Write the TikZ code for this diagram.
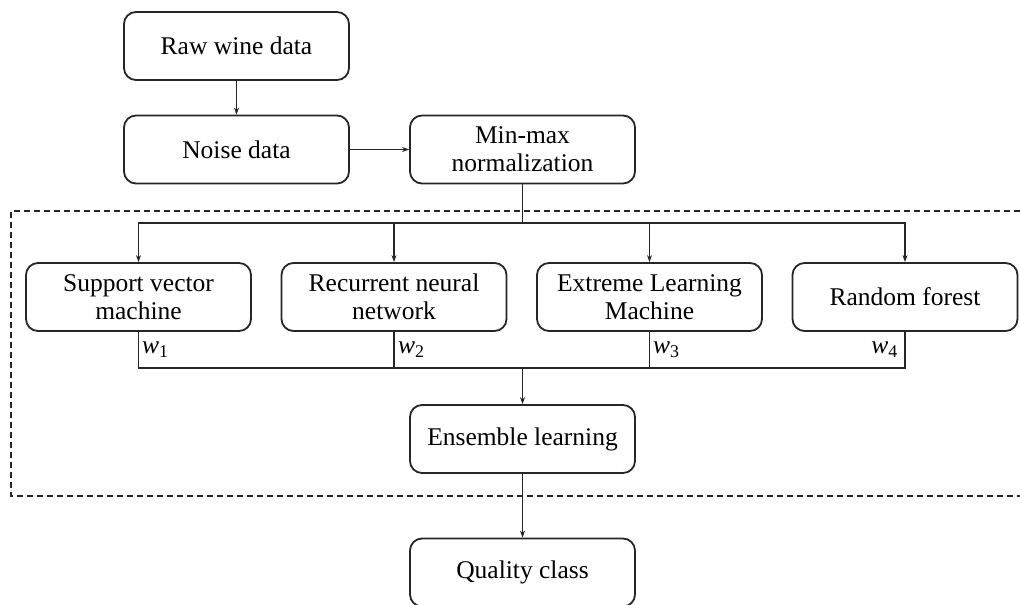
\documentclass[tikz,border=0pt]{standalone}
\usepackage{fontspec}
\setmainfont{Liberation Serif}
\usetikzlibrary{arrows.meta}
\begin{document}
\begin{tikzpicture}[x=1pt,y=-1pt,
  box/.style={draw=black!85, line width=1.8pt, rounded corners=12pt, minimum width=225pt, minimum height=68pt,
    inner sep=0pt, align=center, font=\fontsize{25.5}{28}\selectfont},
  arr/.style={draw=black!85, line width=1.6pt, -{Stealth[length=7pt,width=5pt]}},
  ln/.style={draw=black!85, line width=1.6pt},
  dbox/.style={draw=black!85, line width=1.4pt, dash pattern=on 6pt off 4pt},
  wlab/.style={font=\fontsize{25.5}{28}\selectfont, inner sep=0pt}]
\useasboundingbox (0,0) rectangle (1020,605);
\draw[dbox] (1020,211) -- (11,211) -- (11,496) -- (1020,496);
\node[box] (raw) at (236.5,46) {Raw wine data};
\node[box] (noise) at (236.5,149.5) {Noise data};
\node[box] (mm) at (522.5,149.5) {Min-max\\normalization};
\node[box] (svm) at (138.5,297) {Support vector\\machine};
\node[box] (rnn) at (394,297) {Recurrent neural\\network};
\node[box] (elm) at (649.5,297) {Extreme Learning\\Machine};
\node[box] (rf) at (905,297) {Random forest};
\node[box] (ens) at (522.5,439) {Ensemble learning};
\node[box] (qc) at (522.5,572.5) {Quality class};
\coordinate (split) at (522.5,223);
\coordinate (join) at (522.5,368);
\draw[arr] (raw) -- (noise);
\draw[arr] (noise) -- (mm);
\draw[ln] (mm.south) -- (split);
\draw[arr] (split) -| (svm.north);
\draw[arr] (split) -| (rnn.north);
\draw[arr] (split) -| (elm.north);
\draw[arr] (split) -| (rf.north);
\draw[ln] (svm.south) |- (join);
\draw[ln] (rnn.south) |- (join);
\draw[ln] (elm.south) |- (join);
\draw[ln] (rf.south) |- (join);
\draw[arr] (join) -- (ens);
\draw[arr] (ens) -- (qc);
\node[wlab, anchor=west] (w1) at (142,350) {\textit{w}\textsubscript{1}};
\node[wlab, anchor=west] (w2) at (398,350) {\textit{w}\textsubscript{2}};
\node[wlab, anchor=west] (w3) at (653,350) {\textit{w}\textsubscript{3}};
\node[wlab, anchor=east] (w4) at (898,350) {\textit{w}\textsubscript{4}};
\end{tikzpicture}
\end{document}
